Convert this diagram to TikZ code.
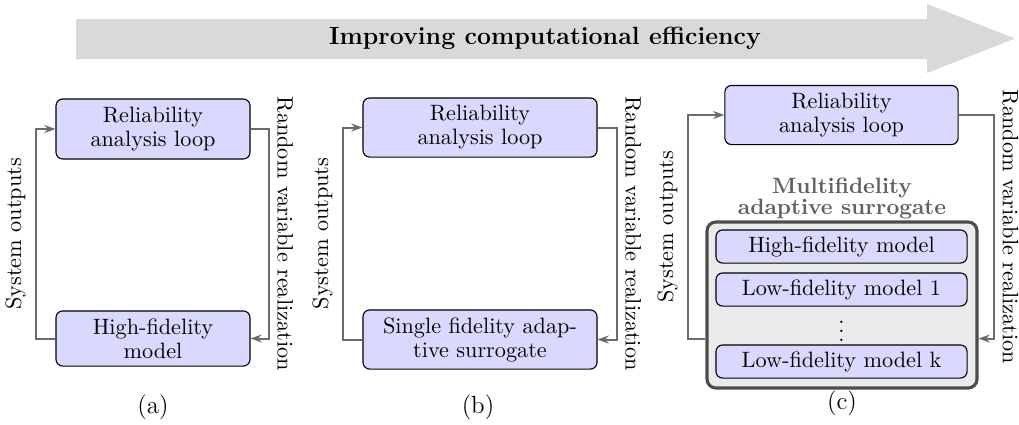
\documentclass[tikz,border=0pt]{standalone}
\usetikzlibrary{arrows.meta,calc}

\tikzset{every picture/.style={line width=0.75pt}}
\tikzset{
  blk/.style={draw=black, line width=0.5pt, fill=blue!15, rounded corners=3pt,
    align=center, inner sep=2pt, font=\fontsize{10}{10.8}\selectfont},
  mfbox/.style={draw=black!70, line width=1.4pt, fill=black!8, rounded corners=4pt,
    minimum width=121.5pt, minimum height=74.7pt},
  conn/.style={draw=black!58, line width=0.9pt, -{Stealth[length=5pt,width=3.6pt]}},
  slab/.style={rotate=90, anchor=south, inner sep=4.4pt},
  rlab/.style={rotate=-90, anchor=south, inner sep=3.4pt},
  capt/.style={font=\fontsize{11.2}{13}\selectfont},
}

\begin{document}
\begin{tikzpicture}[x=0.45pt,y=0.45pt,yscale=-1,xscale=1]
	%set diagram to the size of the reference
	\useasboundingbox (0,0) rectangle (1019,424);
	
	%Shape: Arrow [id:bigarrow]
	\fill [black!15] (76,19) -- (927,19) -- (927,4) -- (1015,38.5) -- (927,73) -- (927,59) -- (76,59) -- cycle ;
	% Text Node
	\node (effic) at (545,38.5) {\fontsize{11.2}{13}\selectfont\bfseries Improving computational efficiency};
	
	%Shape: Rounded Rectangle (a)
	\node [blk, minimum width=87.3pt, minimum height=27pt] (rela) at (153,129) {Reliability\\analysis loop};
	\node [blk, minimum width=87.3pt, minimum height=24.8pt] (hfa) at (153,338.5) {High-fidelity\\model};
	%Straight Lines (a)
	\draw [conn] (hfa.west) -- ++(-19,0) coordinate (a1) -- (a1 |- rela.west) node [midway, slab] {System outputs} -- (rela.west) ;
	\draw [conn] (rela.east) -- ++(18,0) coordinate (a2) -- (a2 |- hfa.east) node [midway, rlab] {Random variable realization} -- (hfa.east) ;
	% Text Node
	\node [capt] (capa) at (153,407) {(a)};
	
	%Shape: Rounded Rectangle (b)
	\node [blk, minimum width=105.3pt, minimum height=26.6pt] (relb) at (480,127.5) {Reliability\\analysis loop};
	\node [blk, minimum width=105.3pt, minimum height=26.6pt] (sfs) at (480,339.5) {Single fidelity adap-\\tive surrogate};
	%Straight Lines (b)
	\draw [conn] (sfs.west) -- ++(-19,0) coordinate (b1) -- (b1 |- relb.west) node [midway, slab] {System outputs} -- (relb.west) ;
	\draw [conn] (relb.east) -- ++(19,0) coordinate (b2) -- (b2 |- sfs.east) node [midway, rlab] {Random variable realization} -- (sfs.east) ;
	% Text Node
	\node [capt] (capb) at (478,407) {(b)};
	
	%Shape: Rounded Rectangle (c)
	\node [blk, minimum width=105pt, minimum height=26.6pt] (relc) at (841.5,115) {Reliability\\analysis loop};
	\node [mfbox] (mfs) at (842,305) {};
	\node [blk, minimum width=113pt, minimum height=14.9pt] (hfm) at (841.5,246.5) {High-fidelity model};
	\node [blk, minimum width=113pt, minimum height=14.9pt] (lf1) at (841.5,289.5) {Low-fidelity model 1};
	\node [inner sep=0pt] (dts) at (841.5,325) {$\vdots$};
	\node [blk, minimum width=113pt, minimum height=14.9pt] (lfk) at (841.5,361.5) {Low-fidelity model k};
	% Text Node
	\node [align=center, text=black!62, font=\fontsize{10}{9.4}\selectfont\bfseries] (mft) at (842,198) {Multifidelity\\adaptive surrogate};
	%Straight Lines (c)
	\coordinate (mfout) at ($(mfs.south west)+(0,-51)$);
	\coordinate (mfin) at ($(mfs.south east)+(0,-51)$);
	\draw [conn] (mfout) -- ++(-17,0) coordinate (c1) -- (c1 |- relc.west) node [midway, slab] {System outputs} -- (relc.west) ;
	\draw [conn] (relc.east) -- ++(35,0) coordinate (c2) -- (c2 |- mfin) node [midway, rlab] {Random variable realization} -- (mfin) ;
	% Text Node
	\node [capt] (capc) at (842,403) {(c)};
	
\end{tikzpicture}
\end{document}
